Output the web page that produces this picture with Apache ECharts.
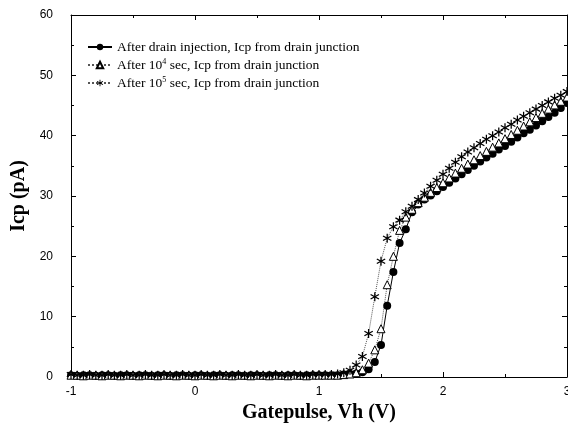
<!DOCTYPE html>
<html>
<head>
<meta charset="utf-8">
<script src="https://cdn.jsdelivr.net/npm/echarts@6/dist/echarts.min.js"></script>
<style>
  html, body { margin: 0; padding: 0; background: #fff; }
  #chart { width: 568px; height: 432px; }
</style>
</head>
<body>
<div id="chart"></div>
<script>
// gate pulse high level (V)
var vh = [
  -1, -0.95, -0.9, -0.85, -0.8, -0.75, -0.7, -0.65, -0.6, -0.55,
  -0.5, -0.45, -0.4, -0.35, -0.3, -0.25, -0.2, -0.15, -0.1, -0.05,
  0, 0.05, 0.1, 0.15, 0.2, 0.25, 0.3, 0.35, 0.4, 0.45,
  0.5, 0.55, 0.6, 0.65, 0.7, 0.75, 0.8, 0.85, 0.9, 0.95,
  1, 1.05, 1.1, 1.15, 1.2, 1.25, 1.3, 1.35, 1.4, 1.45,
  1.5, 1.55, 1.6, 1.65, 1.7, 1.75, 1.8, 1.85, 1.9, 1.95,
  2, 2.05, 2.1, 2.15, 2.2, 2.25, 2.3, 2.35, 2.4, 2.45,
  2.5, 2.55, 2.6, 2.65, 2.7, 2.75, 2.8, 2.85, 2.9, 2.95, 3
];

// after drain injection
var icpInj = [
  0.3, 0.2, 0.3, 0.3, 0.2, 0.3, 0.3, 0.2, 0.3, 0.3,
  0.2, 0.3, 0.3, 0.2, 0.3, 0.3, 0.2, 0.3, 0.3, 0.2,
  0.3, 0.3, 0.2, 0.3, 0.3, 0.2, 0.3, 0.3, 0.2, 0.3,
  0.3, 0.2, 0.3, 0.3, 0.2, 0.3, 0.3, 0.2, 0.3, 0.3,
  0.3, 0.3, 0.3, 0.3, 0.4, 0.5, 0.6, 0.8, 1.3, 2.5,
  5.3, 11.8, 17.4, 22.2, 24.5, 27.3, 28.6, 29.4, 30.1, 30.8,
  31.5, 32.2, 32.9, 33.6, 34.3, 35.0, 35.7, 36.4, 37.0, 37.7,
  38.3, 39.0, 39.7, 40.4, 41.0, 41.7, 42.4, 43.1, 43.8, 44.6, 45.4
];

// after 10^4 sec
var icp1e4 = [
  0.3, 0.3, 0.2, 0.3, 0.3, 0.2, 0.3, 0.3, 0.2, 0.3,
  0.3, 0.2, 0.3, 0.3, 0.2, 0.3, 0.3, 0.2, 0.3, 0.3,
  0.2, 0.3, 0.3, 0.2, 0.3, 0.3, 0.2, 0.3, 0.3, 0.2,
  0.3, 0.3, 0.2, 0.3, 0.3, 0.2, 0.3, 0.3, 0.2, 0.3,
  0.3, 0.3, 0.3, 0.3, 0.4, 0.5, 0.7, 1.2, 2.3, 4.5,
  8.0, 15.3, 20.0, 24.3, 26.5, 27.8, 28.9, 29.8, 30.6, 31.4,
  32.2, 33.0, 33.8, 34.6, 35.3, 36.0, 36.7, 37.4, 38.1, 38.8,
  39.5, 40.2, 40.9, 41.6, 42.3, 43.0, 43.7, 44.4, 45.1, 45.7, 46.4
];

// after 10^5 sec
var icp1e5 = [
  0.4, 0.3, 0.3, 0.4, 0.3, 0.3, 0.4, 0.3, 0.3, 0.4,
  0.3, 0.3, 0.4, 0.3, 0.3, 0.4, 0.3, 0.3, 0.4, 0.3,
  0.3, 0.4, 0.3, 0.3, 0.4, 0.3, 0.3, 0.4, 0.3, 0.3,
  0.4, 0.3, 0.3, 0.4, 0.3, 0.3, 0.4, 0.3, 0.3, 0.4,
  0.4, 0.4, 0.4, 0.5, 0.7, 1.1, 2.0, 3.4, 7.2, 13.3,
  19.2, 23.0, 24.9, 26.0, 27.4, 28.3, 29.4, 30.5, 31.6, 32.6,
  33.6, 34.6, 35.6, 36.5, 37.3, 38.0, 38.7, 39.4, 40.0, 40.6,
  41.3, 41.9, 42.6, 43.2, 43.8, 44.4, 45.0, 45.6, 46.2, 46.7, 47.3
];

var names = [
  'After drain injection, Icp from drain junction',
  'After 10^4 sec, Icp from drain junction',
  'After 10^5 sec, Icp from drain junction'
];

var pairs = function (ys) {
  return vh.map((x, i) => [x, ys[i]]);
};

// six-armed asterisk
var starPath = 'path://M-0.13,-1 L0.13,-1 L0.13,-0.225 L0.801,-0.613 L0.931,-0.387 L0.26,0 ' +
  'L0.931,0.387 L0.801,0.613 L0.13,0.225 L0.13,1 L-0.13,1 L-0.13,0.225 ' +
  'L-0.801,0.613 L-0.931,0.387 L-0.26,0 L-0.931,-0.387 L-0.801,-0.613 L-0.13,-0.225 Z';

var serif = '"Liberation Serif", "DejaVu Serif", serif';
var sans = '"Liberation Sans", Arial, sans-serif';

var tickStyle = { lineStyle: { color: '#000', width: 1 } };
var frameLine = { show: true, onZero: false, lineStyle: { color: '#000', width: 1 } };

var chart = echarts.init(document.getElementById('chart'));
chart.setOption({
  animation: false,
  backgroundColor: '#fff',
  grid: { left: 71, right: 1, top: 15, bottom: 55, outerBoundsMode: 'none', containLabel: false },
  legend: {
    orient: 'vertical',
    left: 82,
    top: 35,
    itemWidth: 24,
    itemHeight: 8,
    itemGap: 4,
    data: names,
    formatter: name => name.replace(/10\^(\d)/, '10{sup|$1}'),
    textStyle: {
      fontFamily: serif,
      fontSize: 13.5,
      color: '#000',
      rich: {
        sup: { fontFamily: serif, fontSize: 8, verticalAlign: 'top', padding: [0, 0, 6, 0], color: '#000' }
      }
    }
  },
  xAxis: [{
    type: 'value',
    min: -1,
    max: 3,
    interval: 1,
    name: 'Gatepulse, Vh (V)',
    nameLocation: 'middle',
    nameGap: 19,
    nameTextStyle: { fontFamily: serif, fontSize: 20, fontWeight: 'bold', color: '#000' },
    axisLine: frameLine,
    axisTick: Object.assign({ inside: true, length: 5 }, tickStyle),
    minorTick: Object.assign({ show: true, splitNumber: 2, length: 3 }, tickStyle),
    axisLabel: { fontFamily: sans, fontSize: 12, color: '#000', margin: 9 },
    splitLine: { show: false }
  }, {
    type: 'value',
    position: 'top',
    min: -1,
    max: 3,
    interval: 1,
    axisLine: frameLine,
    axisTick: Object.assign({ inside: true, length: 5 }, tickStyle),
    minorTick: Object.assign({ show: true, splitNumber: 2, length: 3 }, tickStyle),
    axisLabel: { show: false },
    splitLine: { show: false }
  }],
  yAxis: [{
    type: 'value',
    min: 0,
    max: 60,
    interval: 10,
    name: 'Icp (pA)',
    nameLocation: 'middle',
    nameGap: 38,
    nameTextStyle: { fontFamily: serif, fontSize: 20, fontWeight: 'bold', color: '#000' },
    axisLine: frameLine,
    axisTick: Object.assign({ show: true, inside: true, length: 5 }, tickStyle),
    minorTick: Object.assign({ show: true, splitNumber: 2, length: 3 }, tickStyle),
    axisLabel: { fontFamily: sans, fontSize: 12, color: '#000', margin: 18 },
    splitLine: { show: false }
  }, {
    type: 'value',
    position: 'right',
    min: 0,
    max: 60,
    interval: 10,
    axisLine: frameLine,
    axisTick: Object.assign({ show: true, inside: true, length: 5 }, tickStyle),
    minorTick: Object.assign({ show: true, splitNumber: 2, length: 3 }, tickStyle),
    axisLabel: { show: false },
    splitLine: { show: false }
  }],
  series: [{
    name: names[0],
    type: 'line',
    data: pairs(icpInj),
    symbol: 'circle',
    symbolSize: 8,
    itemStyle: { color: '#000' },
    lineStyle: { color: '#000', width: 1 }
  }, {
    name: names[1],
    type: 'line',
    data: pairs(icp1e4),
    symbol: 'triangle',
    symbolSize: 8,
    itemStyle: { color: '#fff', borderColor: '#000', borderWidth: 1 },
    lineStyle: { color: '#555', width: 1, type: 'dotted' }
  }, {
    name: names[2],
    type: 'line',
    data: pairs(icp1e5),
    symbol: starPath,
    symbolSize: 9,
    itemStyle: { color: '#000' },
    lineStyle: { color: '#555', width: 1, type: 'dotted' }
  }]
});
</script>
</body>
</html>
